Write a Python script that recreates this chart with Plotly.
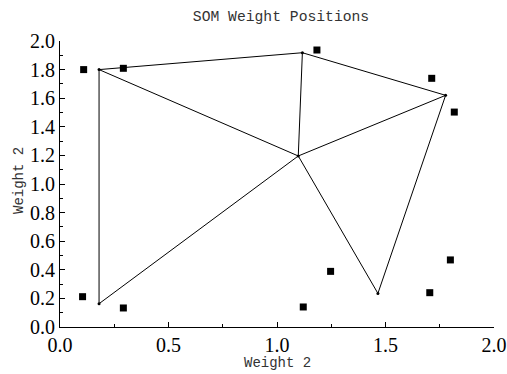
import plotly.graph_objects as go

# SOM neuron weight positions (vertices of the grid lines)
neuron_x = [0.18, 0.18, 1.117, 1.098, 1.777, 1.465]
neuron_y = [1.80, 0.163, 1.918, 1.196, 1.620, 0.235]
# connections between neurons (index pairs)
edges = [(0, 2), (2, 4), (0, 3), (2, 3), (4, 3), (0, 1), (1, 3), (3, 5), (5, 4)]

# input data points
data_x = [0.109, 0.292, 1.184, 1.713, 1.817, 0.104, 0.292, 1.121, 1.247, 1.704, 1.799]
data_y = [1.800, 1.809, 1.937, 1.739, 1.503, 0.212, 0.133, 0.140, 0.389, 0.240, 0.469]

x_ticks = [0.0, 0.5, 1.0, 1.5, 2.0]
y_ticks = [0.0, 0.2, 0.4, 0.6, 0.8, 1.0, 1.2, 1.4, 1.6, 1.8, 2.0]

title_text = "SOM Weight Positions"
x_title = "Weight 2"
y_title = "Weight 2"

lx, ly = [], []
for a, b in edges:
    lx += [neuron_x[a], neuron_x[b], None]
    ly += [neuron_y[a], neuron_y[b], None]

fig = go.Figure()
fig.add_trace(go.Scatter(x=lx, y=ly, mode="lines",
                         line=dict(color="black", width=1), hoverinfo="skip"))
fig.add_trace(go.Scatter(x=neuron_x, y=neuron_y, mode="markers",
                         marker=dict(color="black", size=3)))
fig.add_trace(go.Scatter(x=data_x, y=data_y, mode="markers",
                         marker=dict(symbol="square", color="black", size=7)))

mono = "Liberation Mono, DejaVu Sans Mono, monospace"
serif = "Liberation Serif, Times New Roman, serif"
label_font = dict(family=mono, size=14, color="#333333")

W, H = 507, 374
fig.update_layout(
    width=W, height=H,
    margin=dict(l=60, r=13, t=41, b=47),
    paper_bgcolor="white", plot_bgcolor="white",
    showlegend=False,
    title=dict(text=title_text, xref="container", yref="container",
               x=281 / W, xanchor="center", y=1 - 16 / H, yanchor="middle",
               font=dict(family=mono, size=14.7, color="#333333")),
    xaxis=dict(range=[0, 2.0], tickvals=x_ticks, automargin=False,
               ticktext=[f"{v:.1f}" for v in x_ticks],
               showgrid=False, zeroline=False, showline=True,
               linecolor="black", linewidth=1,
               ticks="inside", ticklen=5, tickcolor="black",
               minor=dict(ticks="inside", dtick=0.25, ticklen=3, tickcolor="black"),
               tickfont=dict(family=serif, size=20, color="black")),
    yaxis=dict(range=[0, 2.0], tickvals=y_ticks, automargin=False,
               ticktext=[f"{v:.1f}" for v in y_ticks],
               showgrid=False, zeroline=False, showline=True,
               linecolor="black", linewidth=1,
               ticks="inside", ticklen=5, tickcolor="black",
               minor=dict(ticks="inside", dtick=0.1, ticklen=3, tickcolor="black"),
               tickfont=dict(family=serif, size=20, color="black")),
    annotations=[
        dict(text=x_title, xref="paper", yref="paper", x=0.5, y=-0.126,
             xanchor="center", yanchor="middle", showarrow=False, font=label_font),
        dict(text=y_title, xref="paper", yref="paper", x=-0.0945, y=0.514,
             xanchor="center", yanchor="middle", showarrow=False, textangle=-90,
             font=label_font),
    ],
)

fig.write_html(
    "out.html",
    config={"displayModeBar": False},
    post_script="document.body.style.margin='0';document.body.style.overflow='hidden';",
)
